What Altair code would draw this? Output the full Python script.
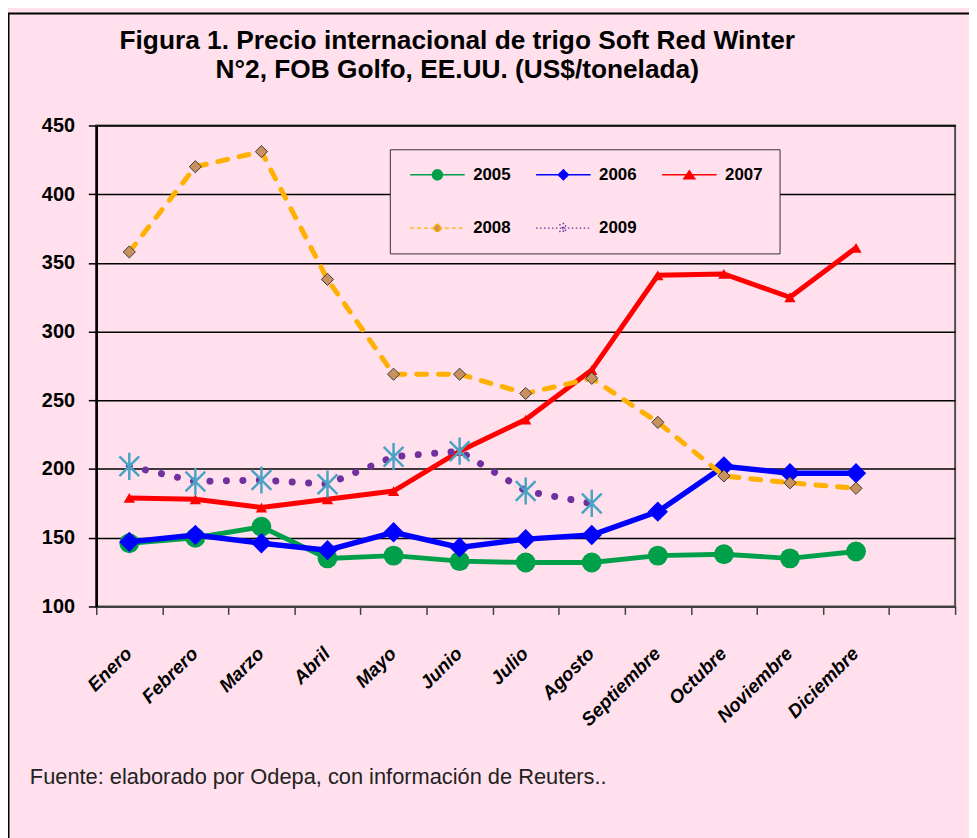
import altair as alt
import pandas as pd

months = ["Enero", "Febrero", "Marzo", "Abril", "Mayo", "Junio", "Julio",
          "Agosto", "Septiembre", "Octubre", "Noviembre", "Diciembre"]
x_domain = months + [" "]

years = ["2005", "2006", "2007", "2008", "2009"]
p2005 = [146, 150, 158, 135, 137, 133, 132, 132, 137, 138, 135, 140]
p2006 = [147, 152, 146, 141, 154, 143, 149, 152, 169, 202, 197, 197]
p2007 = [179, 178, 172, 178, 184, 213, 236, 272, 341, 342, 325, 361]
p2008 = [358, 420, 431, 338, 269, 269, 255, 266, 234, 195, 190, 186]
p2009 = [202, 191, 192, 189, 209, 213, 184, 175]
series = {"2005": p2005, "2006": p2006, "2007": p2007, "2008": p2008, "2009": p2009}

y_ticks = [100, 150, 200, 250, 300, 350, 400, 450]
title_line1 = "Figura 1. Precio internacional de trigo Soft Red Winter"
title_line2 = "N°2, FOB Golfo, EE.UU. (US$/tonelada)"
footer = "Fuente: elaborado por Odepa, con información de Reuters.."

rows = []
for yr, vals in series.items():
    for m, v in zip(months, vals):
        rows.append({"year": yr, "month": m, "value": v})
df = pd.DataFrame(rows)

PINK = "#FFE0EC"
FONT = "Liberation Sans"
W, H = 866, 485

GREEN = "#00A04A"
BLUE = "#0000FF"
RED = "#FF0000"
ORANGE = "#FFB000"
TAN = "#C8915F"
PURPLE = "#7030A0"
TEAL = "#4BA3C3"

ASTER = "M-0.8,-0.8L0.8,0.8M-0.8,0.8L0.8,-0.8M0,-1.1V1.1"

x_enc = alt.X("month:N", sort=x_domain,
              scale=alt.Scale(domain=x_domain, paddingInner=0, paddingOuter=0),
              axis=alt.Axis(title=None, tickBand="extent", grid=False,
                            labelAngle=315, labelAlign="right", labelBaseline="middle",
                            labelFont=FONT, labelFontSize=19, labelFontWeight="bold",
                            labelFontStyle="italic", labelColor="black",
                            labelPadding=36, labelOffset=-1, tickSize=8,
                            tickColor="#404040", tickWidth=1.5,
                            domainColor="#404040", domainWidth=2))
y_enc = alt.Y("value:Q",
              scale=alt.Scale(domain=[100, 450], nice=False, zero=False),
              axis=alt.Axis(title=None, values=y_ticks, grid=True,
                            gridColor="black", gridWidth=1.5,
                            domainColor="black", domainWidth=2.5,
                            tickColor="black", tickSize=8, tickWidth=1.5,
                            labelFont=FONT, labelFontSize=20, labelFontWeight="bold",
                            labelColor="black", labelPadding=14))

styles = {
    "2005": dict(line=dict(color=GREEN, strokeWidth=5),
                 point=dict(shape="circle", size=400, filled=True, fill=GREEN, strokeWidth=0)),
    "2006": dict(line=dict(color=BLUE, strokeWidth=5.5),
                 point=dict(shape="diamond", size=420, filled=True, fill=BLUE, strokeWidth=0)),
    "2007": dict(line=dict(color=RED, strokeWidth=5),
                 point=dict(shape="triangle-up", size=130, filled=True, fill=RED, strokeWidth=0)),
    "2008": dict(line=dict(color=ORANGE, strokeWidth=5, strokeDash=[10, 12], strokeCap="round"),
                 point=dict(shape="diamond", size=150, filled=True, fill=TAN,
                            stroke="#3A3A3A", strokeWidth=1)),
    "2009": dict(line=dict(color=PURPLE, strokeWidth=7, strokeDash=[0.1, 16.5], strokeCap="round"),
                 point=dict(shape=ASTER, size=620, filled=False, stroke=TEAL, strokeWidth=2.5)),
}

layers = []
frame = alt.Chart(alt.Data(values=[{}])).mark_rect(
    fill="transparent", stroke="black", strokeWidth=2
).encode(x=alt.value(-88.5), x2=alt.value(2000), y=alt.value(-113), y2=alt.value(2000))
layers.append(frame)

for yr in years:
    st = styles[yr]
    base = alt.Chart(df).transform_filter(alt.datum.year == yr)
    layers.append(base.mark_line(**st["line"]).encode(x=x_enc, y=y_enc))
    layers.append(base.mark_point(opacity=1, **st["point"]).encode(x=x_enc, y=y_enc))

# legend symbols: line segment + marker
leg_paths = [
    "M-1,0H10M3.5,0A1,1 0 1,0 5.5,0A1,1 0 1,0 3.5,0Z",
    "M-1,0H10M4.5,-1L5.5,0L4.5,1L3.5,0Z",
    "M-1,0H10M4.5,-0.8L5.6,0.8L3.4,0.8Z",
    "M-1,0H10M4.5,-0.9L5.4,0L4.5,0.9L3.6,0Z",
    "M-1,0H10M3.7,-0.8L5.3,0.8M3.7,0.8L5.3,-0.8M4.5,-1.1V1.1",
]
leg_fills = [GREEN, BLUE, RED, TAN, TEAL]
leg_strokes = [GREEN, BLUE, RED, ORANGE, PURPLE]
leg_dash = [[1, 0], [1, 0], [1, 0], [4, 3], [1.5, 2.5]]

leg = alt.Legend(title=None, orient="none", legendX=296, legendY=24, columns=3,
                 direction="horizontal",
                 symbolSize=100, symbolStrokeWidth=1.5,
                 labelFont=FONT, labelFontSize=17, labelFontWeight="bold", labelColor="black",
                 labelOffset=50, padding=17, rowPadding=36, columnPadding=22,
                 fillColor=PINK, strokeColor="#333333")

legend_layer = alt.Chart(df).transform_filter("false").mark_point(
    size=100, opacity=1, strokeWidth=1.5, filled=True
).encode(
    x=x_enc, y=y_enc,
    shape=alt.Shape("year:N", scale=alt.Scale(domain=years, range=leg_paths), legend=leg),
    fill=alt.Fill("year:N", scale=alt.Scale(domain=years, range=leg_fills), legend=leg),
    stroke=alt.Stroke("year:N", scale=alt.Scale(domain=years, range=leg_strokes), legend=leg),
    strokeDash=alt.StrokeDash("year:N", scale=alt.Scale(domain=years, range=leg_dash), legend=leg),
)
layers.append(legend_layer)

title1 = alt.Chart(alt.Data(values=[{}])).mark_text(
    text=title_line1, align="center", baseline="middle", font=FONT, fontSize=26.5,
    fontWeight="bold", color="black"
).encode(x=alt.value(364), y=alt.value(-85))
title2 = alt.Chart(alt.Data(values=[{}])).mark_text(
    text=title_line2, align="center", baseline="middle", font=FONT, fontSize=26.5,
    fontWeight="bold", color="black"
).encode(x=alt.value(364), y=alt.value(-56))
layers += [title1, title2]

foot = alt.Chart(alt.Data(values=[{}])).mark_text(
    text=footer, align="left", baseline="middle", font=FONT, fontSize=22, color="#222222"
).encode(x=alt.value(-67), y=alt.value(657))
layers.append(foot)

chart = alt.layer(*layers).properties(
    width=W, height=H,
    padding={"left": 89, "top": 115, "right": 14, "bottom": 230},
    autosize=alt.AutoSizeParams(type="none"),
).configure(background=PINK).configure_view(stroke="#505050", strokeWidth=2)

chart.save("out.html", embed_options={"renderer": "svg", "actions": False})
